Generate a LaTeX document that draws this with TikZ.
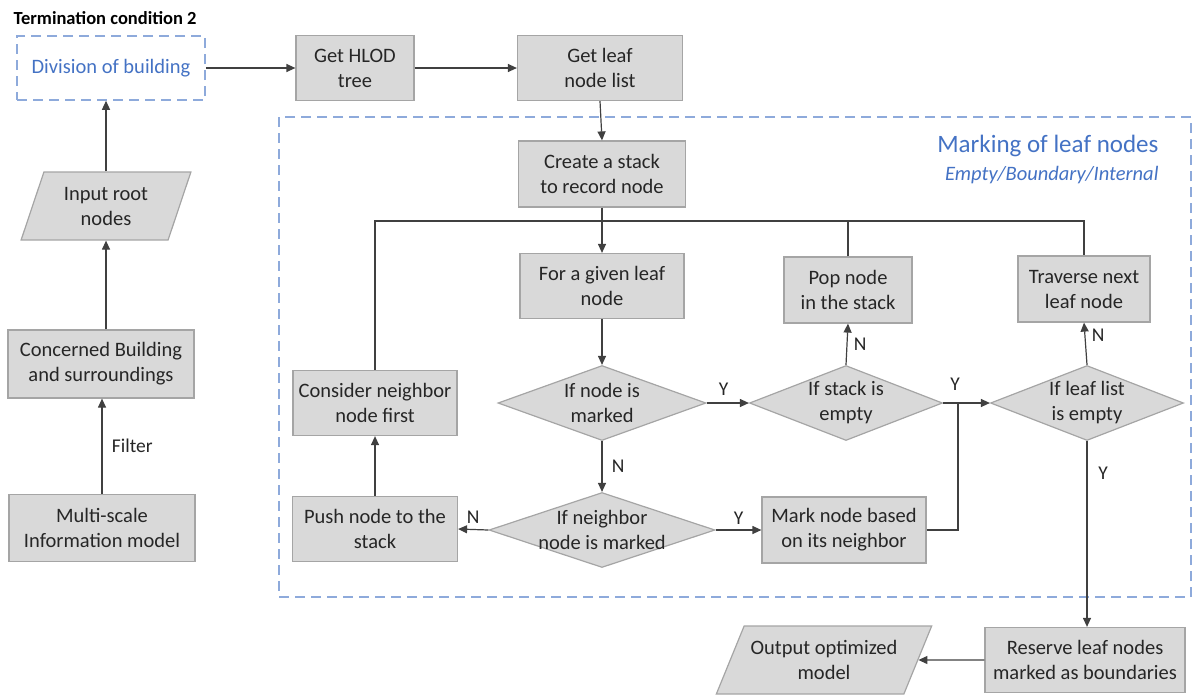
\documentclass[tikz,border=0pt]{standalone}
\usepackage{fontspec}
\setmainfont{Carlito}
\usetikzlibrary{shapes.geometric,arrows.meta}
\definecolor{boxfill}{HTML}{D9D9D9}
\definecolor{boxdraw}{HTML}{A5A5A5}
\definecolor{linecol}{HTML}{404040}
\definecolor{bluetxt}{HTML}{4472C4}
\definecolor{dashcol}{HTML}{8EAADB}
\tikzset{
  boxtext/.style={font=\fontsize{20.5}{25}\selectfont, text=black!85, align=center},
  box/.style 2 args={draw=boxdraw, fill=boxfill, line width=1.2pt, inner sep=2pt,
     minimum width=#1, minimum height=#2, boxtext},
  dia/.style 2 args={draw=boxdraw, fill=boxfill, line width=1.2pt, shape=diamond,
     inner sep=0pt, minimum width=#1, minimum height=#2},
  dtext/.style={boxtext},
  para/.style n args={3}{draw=boxdraw, fill=boxfill, line width=1.2pt, shape=trapezium,
     trapezium left angle=#3, trapezium right angle={180-#3}, trapezium stretches=true,
     inner sep=0pt, minimum width=#1, minimum height=#2, boxtext},
  conn/.style={draw=linecol, line width=1.2pt},
  arr/.style={conn, -{Triangle[length=9pt,width=8pt]}},
  lab/.style={font=\fontsize{19.5}{21}\selectfont, text=black!85},
  dashbox/.style={draw=dashcol, line width=1.5pt, dash pattern=on 10pt off 6pt},
}
\begin{document}
\begin{tikzpicture}[x=1pt,y=-1pt]
\useasboundingbox (0,0) rectangle (1193,697);

% left column
\node[anchor=west, font=\fontsize{18.5}{20}\selectfont\bfseries] (title) at (10,18) {Termination condition 2};
\node[dashbox, minimum width=188pt, minimum height=64pt, font=\fontsize{20.5}{25}\selectfont, text=bluetxt] (div) at (111,68) {Division of building};
\node[para={170pt}{68pt}{68}] (input) at (106,206) {Input root\\nodes};
\node[box={186pt}{68pt}] (conc) at (101,364) {Concerned Building\\and surroundings};
\node[box={186pt}{67pt}] (multi) at (102,528) {Multi-scale\\Information model};

% top row
\node[box={118pt}{65pt}] (hlod) at (355,68) {Get HLOD\\tree};
\node[box={165pt}{65pt}] (leaf) at (600,68) {Get leaf\\node list};

% marking region
\draw[dashbox] (279,117) rectangle (1191,597);
\node[anchor=east, font=\fontsize{25}{28}\selectfont, text=bluetxt] (mtitle) at (1162,146) {Marking of leaf nodes};
\node[anchor=east, font=\fontsize{20.5}{24}\selectfont\itshape, text=bluetxt] (msub) at (1162,175) {Empty/Boundary/Internal};

\node[box={167pt}{66pt}] (stack) at (602,174) {Create a stack\\to record node};
\node[box={164pt}{65pt}] (given) at (602,286) {For a given leaf\\node};
\node[box={128pt}{66pt}] (pop) at (848,290) {Pop node\\in the stack};
\node[box={132pt}{66pt}] (trav) at (1084,289) {Traverse next\\leaf node};
\node[box={164pt}{65pt}] (cons) at (375,403) {Consider neighbor\\node first};
\node[dia={208pt}{75pt}, label={[dtext]center:If node is\\marked}] (d1) at (602,403) {};
\node[dia={193pt}{75pt}, label={[dtext]center:If stack is\\empty}] (d2) at (846,403) {};
\node[dia={193pt}{75pt}, label={[dtext]center:If leaf list\\is empty}] (d3) at (1087,403) {};
\node[box={165pt}{65pt}] (push) at (375,529) {Push node to the\\stack};
\node[dia={226pt}{75pt}, label={[dtext]center:If neighbor\\node is marked}] (d4) at (602,530) {};
\node[box={164pt}{66pt}] (mark) at (844,530) {Mark node based\\on its neighbor};

% bottom
\node[box={200pt}{65pt}] (res) at (1085,660) {Reserve leaf nodes\\marked as boundaries};
\node[para={216pt}{68pt}{57}] (out) at (824,660) {Output optimized\\model};

% coordinates
\coordinate (top) at (602,221);
\coordinate (jn) at (958,403);

% connectors
\draw[arr] (multi.north) -- node[lab, right, xshift=6pt] {Filter} (conc.south -| multi.north);
\draw[arr] (conc.north -| input.south) -- (input.south);
\draw[arr] (input.north) -- (div.south -| input.north);
\draw[arr] (div.east) -- (hlod.west);
\draw[arr] (hlod.east) -- (leaf.west);
\draw[arr] (leaf.south) -- (stack.north);
\draw[arr] (stack.south) -- (given.north);
\draw[conn] (cons.north) |- (top) -| (trav.north);
\draw[conn] (pop.north) -- (pop.north |- top);
\draw[arr] (given.south) -- (d1.north);
\draw[arr] (d1.east) -- node[lab, above, pos=0.4, yshift=4pt] {Y} (d2.west);
\draw[arr] (d2.north) -- node[lab, right, xshift=3pt] {N} (pop.south);
\draw[arr] (d2.east) -- (d3.west);
\node[lab] (y2) at (955,384) {Y};
\draw[conn] (mark.east) -| (jn);
\draw[arr] (d3.north) -- node[lab, right, xshift=3pt, pos=0.7] {N} (trav.south);
\draw[arr] (d3.south) -- (res.north -| d3.south);
\node[lab] (y3) at (1103,473) {Y};
\draw[arr] (d1.south) -- node[lab, right, xshift=6pt] {N} (d4.north);
\draw[arr] (d4.west) -- node[lab, above, yshift=2pt] {N} (push.east);
\draw[arr] (d4.east) -- node[lab, above, yshift=2pt] {Y} (mark.west);
\draw[arr] (push.north) -- (cons.south);
\draw[arr] (res.west) -- (out.east);
\end{tikzpicture}
\end{document}
